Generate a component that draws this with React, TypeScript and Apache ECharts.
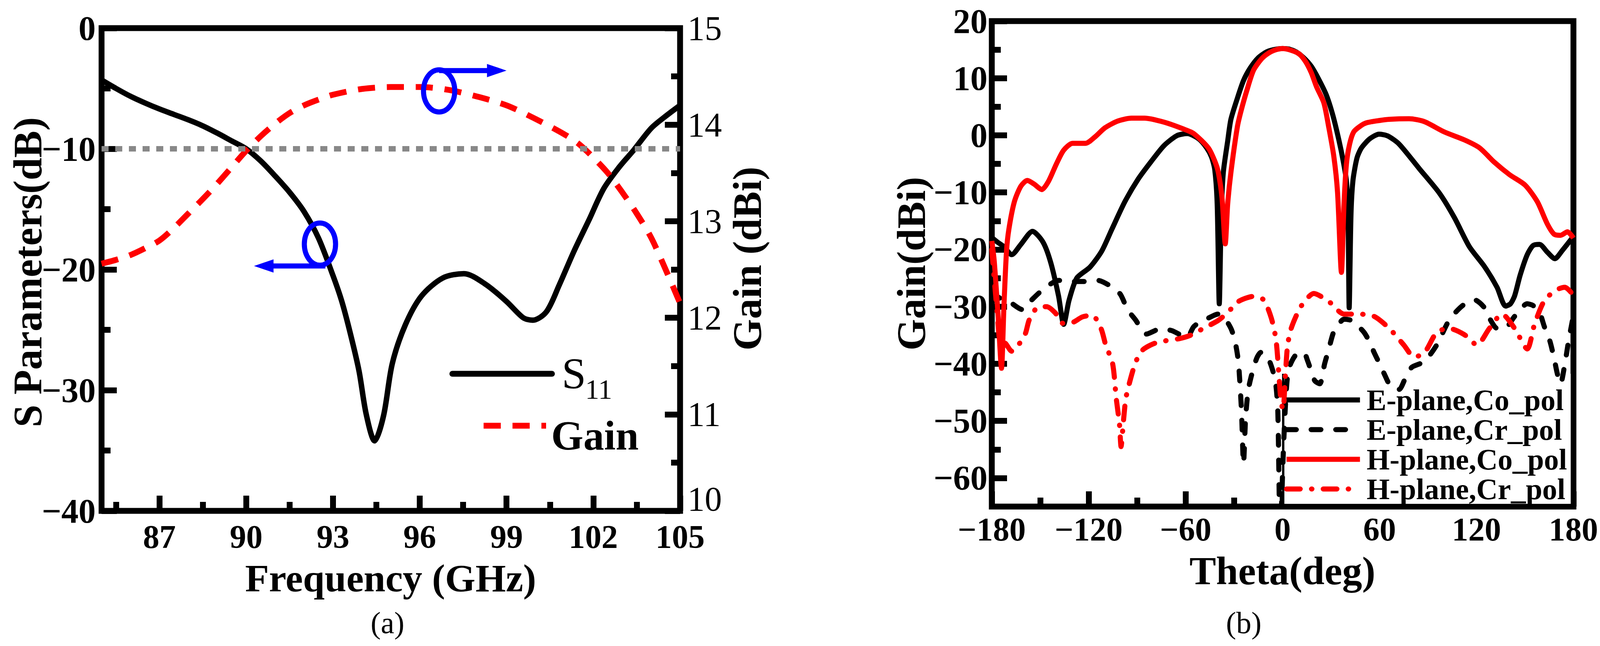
import React, { useEffect, useRef } from 'react';
import * as echarts from 'echarts';

const FONT = 'Liberation Serif';

// ---------- (a) S11 and Gain vs frequency ----------
const freqS11 = [85, 85.5, 86, 86.5, 87, 87.5, 88, 88.5, 89, 89.5, 90, 90.5, 91, 91.5, 92, 92.5, 93, 93.3, 93.6, 93.9, 94.15, 94.44, 94.75, 95.05, 95.5, 96.06, 96.8, 97.53, 98.26, 99, 99.58, 99.91, 100.38, 100.82, 101.33, 101.85, 102.36, 102.9, 103.4, 104, 104.5, 105];
const s11 = [-4.3, -5.0, -5.65, -6.2, -6.7, -7.15, -7.6, -8.1, -8.7, -9.35, -10.0, -11.0, -12.25, -13.6, -15.2, -17.4, -20.5, -22.6, -25.3, -28.4, -32.0, -34.2, -32.1, -27.8, -24.6, -22.2, -20.7, -20.35, -21.2, -22.65, -24.0, -24.2, -23.5, -21.3, -18.5, -15.9, -13.3, -11.5, -10.1, -8.3, -7.3, -6.4];

const freqGain = [85, 85.5, 86, 86.5, 87, 87.5, 88, 88.5, 89, 89.5, 90, 90.5, 91, 91.5, 92, 92.5, 93, 94, 95, 96, 97, 98, 99, 100, 101, 101.5, 102, 102.5, 103, 103.5, 104, 104.5, 105];
const gainA = [12.56, 12.6, 12.65, 12.72, 12.8, 12.93, 13.08, 13.23, 13.39, 13.56, 13.73, 13.88, 14.01, 14.12, 14.2, 14.26, 14.31, 14.37, 14.39, 14.39, 14.36, 14.29, 14.2, 14.06, 13.9, 13.8, 13.66, 13.5, 13.3, 13.08, 12.83, 12.5, 12.15];

const s11Threshold = -10;

// annotation: [ellipse centre freq, ellipse centre S (dB), arrow tip freq, side(0 = arrow from bottom, 1 = from top)]
const annotations = [
  [92.55, -17.9, 90.27, 0],
  [96.67, -5.2, 99.0, 1],
];

const freqTickCats = ['85', '85.5', '86', '86.5', '87', '87.5', '88', '88.5', '89', '89.5', '90', '90.5', '91', '91.5', '92', '92.5', '93', '93.5', '94', '94.5', '95', '95.5', '96', '96.5', '97', '97.5', '98', '98.5', '99', '99.5', '100', '100.5', '101', '101.5', '102', '102.5', '103', '103.5', '104', '104.5', '105'];
const freqMajorLabels = ['87', '90', '93', '96', '99', '102', '105'];
const freqMinorTicks = ['85.5', '88.5', '91.5', '94.5', '97.5', '100.5', '103.5'];

// ---------- (b) radiation patterns ----------
const thetaECo = [-180, -176, -172.5, -167.7, -162, -154.8, -148.3, -143.5, -138.7, -135.5, -132.2, -127.4, -119.3, -112, -105.6, -97.6, -89.5, -81.4, -73.4, -65.4, -59, -52, -47, -44, -42, -40.5, -39.2, -38, -36.7, -34, -32, -28, -24.2, -20, -15, -10, -5.6, 0, 4, 8.4, 13, 17.7, 22, 27, 31, 34.8, 37.5, 39.5, 40.5, 41.2, 42.3, 43.5, 46, 48.8, 54, 59.7, 65, 72, 84.5, 97, 106.3, 115.6, 125, 132.7, 138, 141, 143.6, 147, 151.4, 155, 159, 164, 168.5, 173, 180];
const gainECo = [-17.9, -18.8, -19.5, -20.9, -19.1, -16.8, -18.7, -22.3, -28.1, -33.1, -28.9, -25, -23.1, -20.3, -16.4, -11.6, -7.7, -4.6, -1.8, -0.05, 0.3, -0.6, -2.2, -3.8, -6, -12, -29.5, -14, -6.5, -1, 2.8, 6.5, 9.6, 11.8, 13.6, 14.6, 15.0, 15.2, 15.1, 14.6, 13.6, 12.1, 10, 7.1, 3.6, -0.8, -4.5, -8, -14, -30.2, -14, -8, -4, -2.2, -0.6, 0.2, -0.1, -1.5, -5.8, -10.1, -14.4, -19.5, -23, -26.6, -29.9, -29.5, -28.1, -24.5, -20.9, -19.3, -19.1, -20.5, -21.6, -20.2, -17.7];

const thetaECr = [-180, -175, -169.4, -161.2, -155.6, -149.1, -138.7, -131.4, -123.3, -114.4, -106.5, -100.5, -96, -91.1, -84.3, -75.8, -68.5, -59.3, -55, -50, -46, -40, -36.7, -32, -29.5, -27.4, -25.5, -24.2, -23, -21.5, -19.6, -16, -13.4, -10, -7.1, -4.5, -3, -1.5, 0.5, 2, 3.7, 8, 13, 15.5, 17.7, 20, 23, 26, 28.6, 31.5, 34.8, 38, 42.6, 46, 50.4, 53.5, 56.6, 60, 62.8, 67, 72, 76, 80, 87.7, 95.4, 103, 111, 118.7, 125, 129, 132.7, 137.4, 143.6, 151.4, 155, 159, 162, 165.4, 168, 170, 172, 174.7, 177, 180];
const gainECr = [-27.5, -28.5, -29.1, -30.5, -28.9, -27.2, -25.4, -25.6, -25.6, -25.4, -26.4, -27.8, -30.5, -32.3, -34.8, -33.9, -34.2, -35.4, -33.5, -32.5, -32, -31.3, -31.7, -33.8, -36, -39.6, -48, -57.5, -50, -45, -42.4, -39, -38, -38.5, -40.3, -43, -48, -70, -55, -46, -41, -38.5, -38, -39.5, -41.3, -43, -43.5, -40, -37.4, -34.5, -33, -32.2, -32.4, -33.2, -34.5, -36, -38, -40, -41.7, -44, -44.5, -42.5, -40.6, -39.6, -36.7, -32.4, -29.9, -28.8, -30.2, -32.5, -33.8, -33.8, -31.7, -29.5, -29.8, -31, -33.5, -36, -39, -41.7, -43.5, -40, -36, -31.5];

const thetaHCo = [-180, -178.5, -176, -174, -172.5, -170.9, -169.4, -166, -162, -158, -154, -149, -145, -140, -135.5, -130, -122, -116, -110, -102, -93.5, -85.5, -73.4, -61.3, -55, -46, -42, -39.8, -37.5, -35.5, -34, -32, -28, -25.8, -22, -18, -13, -8.7, -4, 0, 4, 10, 14, 17.7, 21, 25.5, 28.5, 31.7, 34, 36.4, 38, 39.5, 41.5, 44, 48, 52, 60, 66, 78.3, 87.7, 100, 112.5, 121.9, 131, 140.5, 150, 157.6, 163.8, 168, 172, 176.3, 180];
const gainHCo = [-18.5, -22, -32, -40.8, -30, -20.3, -16.4, -11.6, -8.9, -7.9, -8.5, -9.5, -8.1, -5.0, -2.6, -1.4, -1.4, -0.25, 1.3, 2.5, 3.0, 3.0, 2.3, 1.1, 0.3, -2.2, -4.5, -6.5, -11, -19, -12, -6.5, 1.5, 4.2, 8, 11.4, 13.4, 14.4, 15.0, 15.2, 15.0, 14.3, 13, 11, 8.5, 5.7, 1.5, -3.7, -10, -24, -12, -5, -1.5, 0.6, 1.6, 2.2, 2.6, 2.8, 2.9, 2.4, 0.6, -0.8, -2.2, -4.7, -6.9, -8.7, -11.6, -15.5, -17.3, -17.5, -16.9, -18];

const thetaHCr = [-180, -177, -174, -171.8, -167.7, -163, -159.2, -156.8, -151.5, -146, -140.7, -136.2, -129.5, -124, -117.8, -112.3, -109.6, -105.2, -103, -101, -100, -98.5, -97, -94, -90.8, -86.7, -80, -73, -64, -57, -49, -39.8, -33.6, -27.4, -18, -11.8, -7, -4, -1, 0.3, 1.5, 3, 5.3, 11.5, 19.3, 28.6, 38, 47, 56.6, 66, 75, 81.4, 87.7, 95.4, 103, 112.5, 120.3, 128, 135.8, 143.6, 151.4, 156, 162.3, 170, 174.7, 180];
const gainHCr = [-20, -30, -38, -36.4, -37.8, -36.5, -34.7, -32.3, -30.1, -30, -31.1, -32.9, -32.7, -31.8, -31.5, -33.9, -36.6, -40, -46, -50.5, -54.5, -50, -46, -42.5, -39.6, -37.6, -36.5, -36, -35.6, -35, -33.8, -32.4, -30.9, -29.1, -28.2, -28.8, -32, -36, -46.7, -48, -43, -37, -33.8, -29.9, -27.7, -29.1, -31.3, -31.3, -31.7, -33.8, -36.7, -38.8, -38.1, -34.5, -33.8, -34.9, -36.7, -33.8, -31.3, -33.8, -37.4, -33, -28.8, -27, -26.6, -28];

const patternNames = ['E-plane,Co_pol', 'E-plane,Cr_pol', 'H-plane,Co_pol', 'H-plane,Cr_pol'];

const gainTickCats = ['-65', '-60', '-55', '-50', '-45', '-40', '-35', '-30', '-25', '-20', '-15', '-10', '-5', '0', '5', '10', '15', '20'];
const gainMajorLabels = ['-60', '-50', '-40', '-30', '-20', '-10', '0', '10', '20'];
const gainMinorTicks = ['-55', '-45', '-35', '-25', '-15', '-5', '5', '15'];

const pairs = (xs: number[], ys: number[]) => xs.map((x, i) => [x, ys[i]]);
const fmtMinus = (v: any) => {
  const n = Number(v);
  return n < 0 ? '\u2212' + Math.abs(n) : String(n);
};

export default function App() {
  const ref = useRef<HTMLDivElement>(null);

  useEffect(() => {
    const chart = echarts.init(ref.current as HTMLDivElement, null, { renderer: 'svg' });

    const tickLine = { color: '#000', width: 15 };
    const boldLabel = { fontFamily: FONT, fontWeight: 'bold', fontSize: 88, color: '#000' };
    const xLabel = { fontFamily: FONT, fontWeight: 'bold', fontSize: 84, color: '#000', lineHeight: 66 };
    const hidden = { show: false };

    const txt = (text: string, x: number, y: number, size: number, weight: string, rot = 0, align = 'center', lh?: number) => ({
      type: 'text',
      x,
      y,
      rotation: rot,
      z: 10,
      style: {
        text,
        fill: '#000',
        fontFamily: FONT,
        fontSize: size,
        fontWeight: weight,
        lineHeight: lh || size,
        align,
        textAlign: align,
        verticalAlign: 'middle',
        textVerticalAlign: 'middle',
      },
    });

    const option: any = {
      animation: false,
      backgroundColor: '#fff',
      textStyle: { fontFamily: FONT },
      grid: [
        { left: 260, top: 72, width: 1481, height: 1236, show: true, borderColor: '#000', borderWidth: 15, backgroundColor: 'transparent' },
        { left: 2539, top: 54, width: 1489, height: 1243, show: true, borderColor: '#000', borderWidth: 15, backgroundColor: 'transparent' },
      ],
      xAxis: [
        { type: 'value', gridIndex: 0, min: 85, max: 105, show: false, axisLine: { onZero: false } },
        {
          type: 'category', gridIndex: 0, data: freqTickCats, boundaryGap: false, position: 'bottom',
          axisLine: { show: false, onZero: false },
          axisTick: { show: true, inside: true, length: 39, lineStyle: tickLine, interval: (i: number, v: string) => freqMajorLabels.includes(v) },
          axisLabel: { ...xLabel, margin: 33, interval: (i: number, v: string) => freqMajorLabels.includes(v) },
          splitLine: hidden,
        },
        {
          type: 'category', gridIndex: 0, data: freqTickCats, boundaryGap: false, position: 'bottom',
          axisLine: { show: false, onZero: false },
          axisTick: { show: true, inside: true, length: 23, lineStyle: tickLine, interval: (i: number, v: string) => freqMinorTicks.includes(v) },
          axisLabel: hidden,
          splitLine: hidden,
        },
        {
          type: 'value', gridIndex: 1, min: -180, max: 180, interval: 60, position: 'bottom',
          axisLine: { show: false, onZero: false },
          axisTick: { show: true, inside: true, length: 39, lineStyle: tickLine },
          minorTick: { show: true, splitNumber: 2, length: 23, lineStyle: tickLine },
          axisLabel: { ...xLabel, margin: 25, formatter: fmtMinus },
          splitLine: hidden,
          minorSplitLine: hidden,
        },
      ],
      yAxis: [
        {
          type: 'value', gridIndex: 0, min: -40, max: 0, interval: 10, position: 'left',
          axisLine: { show: false, onZero: false },
          axisTick: { show: true, inside: true, length: 39, lineStyle: tickLine },
          minorTick: { show: true, splitNumber: 2, length: 23, lineStyle: tickLine },
          axisLabel: { ...boldLabel, margin: 15, formatter: fmtMinus },
          splitLine: hidden,
          minorSplitLine: hidden,
        },
        {
          type: 'value', gridIndex: 0, min: 10, max: 15, interval: 1, position: 'right',
          axisLine: { show: false, onZero: false },
          axisTick: { show: true, inside: true, length: 39, lineStyle: tickLine },
          minorTick: { show: true, splitNumber: 2, length: 23, lineStyle: tickLine },
          axisLabel: {
            fontFamily: FONT, fontWeight: 'normal', fontSize: 88, color: '#000', margin: 19,
            // lowest label is lifted slightly so it does not collide with the "105" frequency label
            formatter: (v: number) => (v === 10 ? '{lo|10}' : String(v)),
            rich: { lo: { fontFamily: FONT, fontWeight: 'normal', fontSize: 88, color: '#000', padding: [0, 0, 62, 0] } },
          },
          splitLine: hidden,
          minorSplitLine: hidden,
        },
        { type: 'value', gridIndex: 1, min: -65, max: 20, show: false, position: 'left', axisLine: { onZero: false } },
        {
          type: 'category', gridIndex: 1, data: gainTickCats, boundaryGap: false, position: 'left',
          axisLine: { show: false, onZero: false },
          axisTick: { show: true, inside: true, length: 39, lineStyle: tickLine, interval: (i: number, v: string) => gainMajorLabels.includes(v) },
          axisLabel: { ...boldLabel, margin: 11, padding: [30, 0, 0, 0], formatter: fmtMinus, interval: (i: number, v: string) => gainMajorLabels.includes(v) },
          splitLine: hidden,
        },
        {
          type: 'category', gridIndex: 1, data: gainTickCats, boundaryGap: false, position: 'left',
          axisLine: { show: false, onZero: false },
          axisTick: { show: true, inside: true, length: 23, lineStyle: tickLine, interval: (i: number, v: string) => gainMinorTicks.includes(v) },
          axisLabel: hidden,
          splitLine: hidden,
        },
      ],
      legend: {
        data: patternNames,
        orient: 'vertical',
        left: 3287,
        top: 986,
        padding: 0,
        itemGap: 0,
        itemWidth: 188,
        itemHeight: 20,
        selectedMode: false,
        z: 6,
        textStyle: { fontFamily: FONT, fontWeight: 'bold', fontSize: 76, lineHeight: 76, color: '#000', padding: [0, 0, 0, 12] },
        lineStyle: { width: 13 },
        itemStyle: { opacity: 0 },
      },
      series: [
        {
          name: 'S11', type: 'line', xAxisIndex: 0, yAxisIndex: 0, data: pairs(freqS11, s11),
          symbol: 'none', smooth: 0.3, lineStyle: { color: '#000', width: 14 }, itemStyle: { color: '#000' },
          markLine: {
            silent: true, symbol: ['none', 'none'], label: { show: false },
            lineStyle: { color: '#888888', width: 14, type: [18, 17] },
            data: [{ yAxis: s11Threshold }],
          },
        },
        {
          name: 'Gain', type: 'line', xAxisIndex: 0, yAxisIndex: 1, data: pairs(freqGain, gainA),
          symbol: 'none', smooth: 0.3, lineStyle: { color: '#ff0000', width: 15, type: [44, 30], cap: 'butt' }, itemStyle: { color: '#ff0000' },
        },
        {
          type: 'custom', xAxisIndex: 0, yAxisIndex: 0, data: annotations, z: 5, silent: true,
          renderItem: (params: any, api: any) => {
            const c = api.coord([api.value(0), api.value(1)]);
            const tip = api.coord([api.value(2), api.value(1)]);
            const side = api.value(3);
            const rx = 40, ry = 54;
            const ly = side === 0 ? c[1] + 56 : c[1] - 52;
            const dir = tip[0] < c[0] ? -1 : 1;
            const headLen = 50, headHalf = 17;
            const x0 = side === 0 ? c[0] + 14 : c[0];
            return {
              type: 'group',
              children: [
                { type: 'ellipse', shape: { cx: c[0], cy: c[1], rx, ry }, style: { fill: 'transparent', stroke: '#0000ff', lineWidth: 13 } },
                { type: 'line', shape: { x1: x0, y1: ly, x2: tip[0] - dir * headLen * 0.7, y2: ly }, style: { stroke: '#0000ff', lineWidth: 13 } },
                { type: 'polygon', shape: { points: [[tip[0], ly], [tip[0] - dir * headLen, ly - headHalf], [tip[0] - dir * headLen, ly + headHalf]] }, style: { fill: '#0000ff' } },
              ],
            };
          },
        },
        {
          name: patternNames[0], type: 'line', xAxisIndex: 3, yAxisIndex: 2, data: pairs(thetaECo, gainECo),
          symbol: 'none', smooth: 0.25, lineStyle: { color: '#000', width: 13 }, itemStyle: { color: '#000' },
        },
        {
          name: patternNames[1], type: 'line', xAxisIndex: 3, yAxisIndex: 2, data: pairs(thetaECr, gainECr),
          symbol: 'none', smooth: 0.25, lineStyle: { color: '#000', width: 13, type: [25, 38], cap: 'round' }, itemStyle: { color: '#000' },
        },
        {
          name: patternNames[2], type: 'line', xAxisIndex: 3, yAxisIndex: 2, data: pairs(thetaHCo, gainHCo),
          symbol: 'none', smooth: 0.25, lineStyle: { color: '#ff0000', width: 13 }, itemStyle: { color: '#ff0000' },
        },
        {
          name: patternNames[3], type: 'line', xAxisIndex: 3, yAxisIndex: 2, data: pairs(thetaHCr, gainHCr),
          symbol: 'none', smooth: 0.25, lineStyle: { color: '#ff0000', width: 13, type: [35, 29, 1, 29], cap: 'round' }, itemStyle: { color: '#ff0000' },
        },
      ],
      graphic: [
        // titles (a)
        txt('S Parameters(dB)', 70, 697, 104, 'bold', Math.PI / 2, 'center', 84),
        txt('Gain (dBi)', 1912, 662, 104, 'bold', Math.PI / 2, 'center', 84),
        txt('Frequency (GHz)', 1000, 1480, 100, 'bold', 0, 'center', 84),
        txt('(a)', 992, 1594, 78, 'normal'),
        // legend (a)
        { type: 'line', z: 10, shape: { x1: 1158, y1: 957, x2: 1413, y2: 957 }, style: { stroke: '#000', lineWidth: 15, lineCap: 'round' } },
        txt('S', 1438, 956, 112, 'normal', 0, 'left'),
        txt('11', 1498, 997, 72, 'normal', 0, 'left'),
        { type: 'line', z: 10, shape: { x1: 1238, y1: 1090, x2: 1398, y2: 1090 }, style: { stroke: '#ff0000', lineWidth: 15, lineDash: [44, 30] } },
        txt('Gain', 1411, 1115, 106, 'bold', 0, 'left'),
        // titles (b)
        txt('Gain(dBi)', 2332, 675, 104, 'bold', Math.PI / 2, 'center', 84),
        txt('Theta(deg)', 3283, 1461, 102, 'bold', 0, 'center', 84),
        txt('(b)', 3184, 1594, 78, 'normal'),
        // legend box (b): white panel with thin left border
        { type: 'rect', z: 3, shape: { x: 3285, y: 957, width: 736, height: 333 }, style: { fill: '#fff' } },
        { type: 'line', z: 3, shape: { x1: 3285, y1: 957, x2: 3285, y2: 1297 }, style: { stroke: '#000', lineWidth: 6 } },
      ],
    };

    chart.setOption(option);
    return () => chart.dispose();
  }, []);

  return <div ref={ref} style={{ position: 'fixed', left: 0, top: 0, width: 4108, height: 1654, background: '#fff' }} />;
}
